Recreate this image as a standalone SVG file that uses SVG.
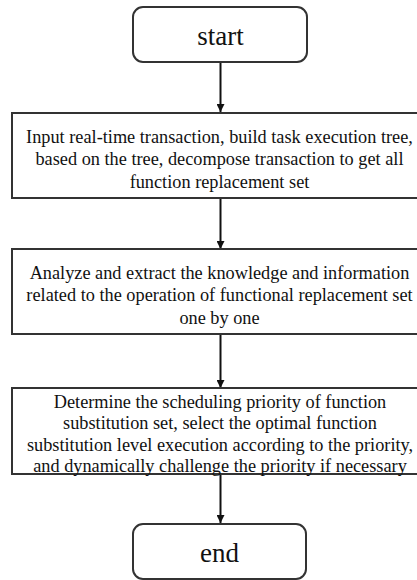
<svg xmlns="http://www.w3.org/2000/svg" width="417" height="580" viewBox="0 0 417 580">
  <defs>
    <marker id="arrow" viewBox="0 0 8 8" refX="8" refY="4" markerWidth="8" markerHeight="8" markerUnits="userSpaceOnUse" orient="auto">
      <path d="M0,0 L8,4 L0,8 Z" fill="#111"/>
    </marker>
    <style>
      .box { fill: #fff; stroke: #333; stroke-width: 2; }
      .term { font-size: 27px; fill: #111; text-anchor: middle; }
      .step { font-size: 18.3px; fill: #111; text-anchor: middle; }
      .link { stroke: #111; stroke-width: 2; fill: none; marker-end: url(#arrow); }
    </style>
  </defs>
  <rect width="417" height="580" fill="#fff"/>

  <g id="connectors">
    <line class="link" x1="220.5" y1="62" x2="220.5" y2="112"/>
    <line class="link" x1="220.5" y1="199" x2="220.5" y2="249"/>
    <line class="link" x1="220.5" y1="335" x2="220.5" y2="388"/>
    <line class="link" x1="220.5" y1="475" x2="220.5" y2="523"/>
  </g>

  <g font-family="'Liberation Serif', 'Times New Roman', serif">
  <g id="start">
    <rect class="box" x="133" y="7" width="174" height="55" rx="10"/>
    <text class="term" x="220.5" y="45">start</text>
  </g>

  <g id="decompose">
    <rect class="box" x="12" y="113" width="416" height="85"/>
    <text class="step" x="219.5" y="143">Input real-time transaction, build task execution tree,</text>
    <text class="step" x="219.5" y="165">based on the tree, decompose transaction to get all</text>
    <text class="step" x="219.5" y="188">function replacement set</text>
  </g>

  <g id="analyze">
    <rect class="box" x="12" y="249" width="416" height="85"/>
    <text class="step" x="219.5" y="279">Analyze and extract the knowledge and information</text>
    <text class="step" x="219.5" y="301">related to the operation of functional replacement set</text>
    <text class="step" x="219.5" y="324">one by one</text>
  </g>

  <g id="schedule">
    <rect class="box" x="12" y="388" width="416" height="86"/>
    <text class="step" x="220" y="408">Determine the scheduling priority of function</text>
    <text class="step" x="220" y="429">substitution set, select the optimal function</text>
    <text class="step" x="220" y="451">substitution level execution according to the priority,</text>
    <text class="step" x="220" y="472">and dynamically challenge the priority if necessary</text>
  </g>

  <g id="end">
    <rect class="box" x="133" y="524" width="173" height="55" rx="10"/>
    <text class="term" x="219.5" y="562">end</text>
  </g>
  </g>
</svg>
